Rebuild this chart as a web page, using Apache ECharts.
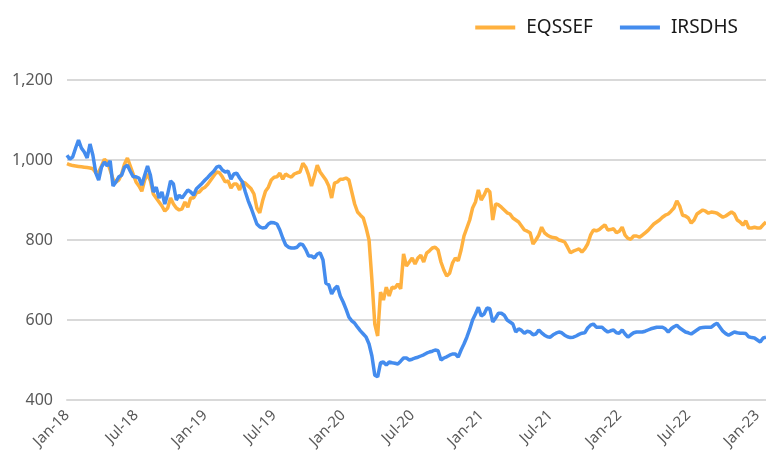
<!DOCTYPE html>
<html>
<head>
<meta charset="utf-8">
<script src="https://cdn.jsdelivr.net/npm/echarts@6/dist/echarts.min.js"></script>
<style>
  html, body { margin: 0; padding: 0; background: #fff; }
  #chart { width: 766px; height: 459px; }
</style>
</head>
<body>
<div id="chart"></div>
<script>
// quarter-month points (1st, 8th, 16th, 23rd), Jan 2018 .. Jan 2023
var dayOfStep = ['01', '08', '16', '23'];
var dates = [];
for (var j = 0; j < 244; j++) {
    var m = Math.floor(j / 4);
    var y = 2018 + Math.floor(m / 12);
    var mm = (m % 12) + 1;
    dates.push(y + '-' + (mm < 10 ? '0' + mm : mm) + '-' + dayOfStep[j % 4]);
}

var tickLabels = ['Jan-18', 'Jul-18', 'Jan-19', 'Jul-19', 'Jan-20', 'Jul-20',
    'Jan-21', 'Jul-21', 'Jan-22', 'Jul-22', 'Jan-23'];

var eqssef = [
    991, 988, 986, 985, 984, 983, 982, 981,
    980, 978, 968, 970, 985, 1002, 995, 975,
    952, 945, 950, 965, 990, 1005, 985, 965,
    945, 935, 922, 950, 965, 948, 915, 905,
    895, 885, 872, 880, 905, 890, 880, 875,
    878, 895, 882, 905, 905, 918, 920, 928,
    932, 940, 950, 960, 970, 968, 958, 945,
    948, 930, 940, 940, 925, 945, 942, 935,
    928, 915, 880, 868, 898, 922, 932, 950,
    957, 958, 967, 952, 965, 960, 957, 965,
    968, 970, 992, 982, 962, 935, 960, 987,
    970, 960, 950, 935, 905, 942, 945, 952,
    952, 955, 950, 920, 890, 870, 862, 855,
    830, 800, 700, 590, 560, 670, 650, 682,
    660, 682, 680, 690, 678, 765, 735, 745,
    755, 740, 755, 762, 745, 767, 773, 780,
    782, 775, 745, 725, 710, 717, 742, 755,
    748, 775, 810, 830, 850, 880, 895, 925,
    900, 912, 928, 920, 850, 890, 888, 882,
    875, 868, 865, 855, 850, 845, 835, 825,
    822, 818, 790, 800, 812, 832, 818, 812,
    808, 806, 805, 800, 798, 795, 782, 768,
    772, 775, 778, 770, 778, 790, 812, 825,
    823, 826, 832, 838, 825, 826, 828, 818,
    822, 832, 812, 804, 802, 810, 810, 807,
    812, 818, 824, 832, 840, 845, 850, 857,
    862, 865, 872, 880, 898, 885, 862, 860,
    855, 842, 850, 865, 870, 875, 872, 867,
    870, 869, 867, 862, 857, 860, 865, 870,
    865, 850, 845, 837, 848, 830, 830, 832,
    830, 830, 838, 845
];

var irsdhs = [
    1012, 1002, 1008, 1030, 1050, 1030, 1020, 1005,
    1040, 1012, 968, 950, 982, 995, 985, 998,
    935, 945, 958, 962, 982, 987, 972, 958,
    958, 955, 937, 962, 985, 962, 920, 932,
    905, 920, 890, 915, 948, 940, 900, 912,
    905, 915, 925, 920, 912, 928, 935, 942,
    950, 957, 965, 972, 982, 985, 975, 970,
    972, 952, 965, 967, 955, 945, 920, 898,
    880, 860, 840, 833, 830, 831, 840, 844,
    843, 840, 825, 805, 788, 782, 780, 780,
    782, 790, 788, 776, 760, 760, 755, 765,
    768, 750, 692, 688, 665, 678, 685, 660,
    645, 627, 607, 598, 592, 582, 573, 565,
    557, 540, 510, 462, 458, 493, 495, 487,
    495, 493, 492, 490, 497, 505, 505, 500,
    502, 505, 507, 510, 513, 517, 520, 522,
    525, 523, 500, 505, 508, 512, 515, 515,
    507, 525, 540, 557, 577, 600, 615, 632,
    610, 615, 630, 628, 595, 605, 617, 617,
    612, 600, 595, 590, 570, 578, 574, 567,
    572, 570, 563, 565, 575, 568, 562, 558,
    557, 563, 567, 570, 568, 562, 558, 556,
    557, 560, 564, 567, 568, 580, 587, 590,
    582, 582, 582, 575, 570, 573, 575, 568,
    567, 575, 565, 557, 563, 568, 570, 570,
    570, 572, 575, 578, 580, 582, 582, 582,
    578, 570, 578, 583, 587, 580, 575, 570,
    568, 565, 570, 575, 580, 581, 582, 582,
    582, 588, 592, 582, 572, 566, 562, 566,
    570, 568, 567, 567, 566, 558, 556, 555,
    550, 545, 555, 557
];

var font = "'Noto Sans', sans-serif";

var chart = echarts.init(document.getElementById('chart'));
chart.setOption({
    animation: false,
    color: ['#FFB13F', '#448CEE'],
    grid: { left: 67, right: 0, top: 80, bottom: 59, containLabel: false },
    legend: {
        right: 23,
        top: 13,
        itemWidth: 40,
        itemHeight: 4,
        itemGap: 27,
        textStyle: { fontFamily: font, fontSize: 19, color: '#1a1a1a', padding: [0, 0, 0, 6] },
        data: [
            { name: 'EQSSEF', icon: 'rect' },
            { name: 'IRSDHS', icon: 'rect' }
        ]
    },
    xAxis: {
        type: 'category',
        data: dates,
        boundaryGap: false,
        axisLine: { lineStyle: { color: '#d9d9d9', width: 2 } },
        axisTick: { show: false },
        axisLabel: {
            interval: 23,
            rotate: 45,
            margin: 13,
            fontFamily: font,
            fontSize: 15,
            color: '#595959',
            formatter: function (v, idx) { return tickLabels[Math.round(idx / 24)]; }
        }
    },
    yAxis: {
        type: 'value',
        min: 400,
        max: 1200,
        interval: 200,
        axisLine: { show: false },
        axisTick: { show: false },
        splitLine: { lineStyle: { color: '#d9d9d9', width: 2 } },
        axisLabel: {
            margin: 14,
            fontFamily: font,
            fontSize: 16,
            color: '#595959',
            formatter: function (v) { return v.toLocaleString('en-US'); }
        }
    },
    series: [
        { name: 'EQSSEF', type: 'line', data: eqssef, showSymbol: false, lineStyle: { width: 3.5 } },
        { name: 'IRSDHS', type: 'line', data: irsdhs, showSymbol: false, lineStyle: { width: 3.5 } }
    ]
});
</script>
</body>
</html>
